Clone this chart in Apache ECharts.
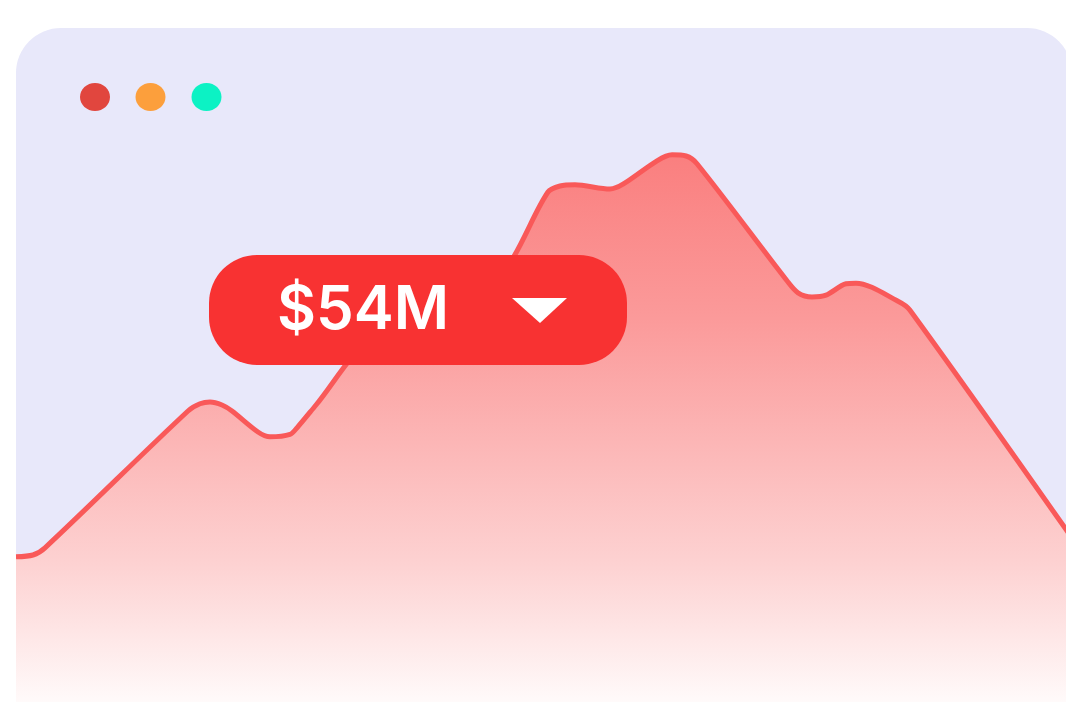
<!DOCTYPE html>
<html>
<head>
<meta charset="utf-8">
<script src="https://cdn.jsdelivr.net/npm/echarts@6/dist/echarts.min.js"></script>
<style>
  html, body { margin: 0; padding: 0; background: #fff; }
  #chart { width: 1066px; height: 702px; }
</style>
</head>
<body>
<div id="chart"></div>
<script>
// position along the timeline (0..105) and value (0..100)
var xs = [0, 1.7, 2.9, 17.2, 18.4, 19.4, 20.6, 21.6, 24.2, 25.4, 27.4, 28.1, 30.0, 35.6, 47.9,
          53.2, 54.4, 55.9, 59.4, 60.7, 64.1, 65.6, 67.0, 68.1, 77.1, 78.2, 79.6,
          81.0, 83.0, 84.0, 88.2, 89.4, 108.4];
var values = [24.2, 24.5, 25.7, 48.5, 49.7, 50.0, 49.5, 48.5, 45.0, 44.2, 44.6, 45.7, 49.5, 60.7, 70.3,
              85.0, 86.0, 86.2, 85.5, 86.3, 90.2, 91.2, 91.0, 89.7, 70.2, 68.2, 67.5,
              67.8, 69.7, 69.8, 66.8, 65.3, 20.7];
var badgeLabel = '$54M';

var points = xs.map(function (x, i) { return [x, values[i]]; });

var chart = echarts.init(document.getElementById('chart'));

var option = {
    backgroundColor: '#ffffff',
    animation: false,
    grid: { left: 16, right: 0, top: 102, bottom: 0 },
    xAxis: { type: 'value', min: 0, max: 105, show: false },
    yAxis: { type: 'value', min: 0, max: 100, show: false },
    graphic: [
        {
            type: 'rect', z: 0, silent: true,
            shape: { x: 16, y: 28, width: 1056, height: 720, r: 45 },
            style: { fill: '#e8e8fa' }
        },
        { type: 'ellipse', z: 1, shape: { cx: 95, cy: 97, rx: 15, ry: 14 }, style: { fill: '#e1463e' } },
        { type: 'ellipse', z: 1, shape: { cx: 150.5, cy: 97, rx: 15, ry: 14 }, style: { fill: '#fc9f3c' } },
        { type: 'ellipse', z: 1, shape: { cx: 206.5, cy: 97, rx: 15, ry: 14 }, style: { fill: '#0cf2c4' } },
        {
            type: 'group', z: 10,
            children: [
                {
                    type: 'rect', z: 10,
                    shape: { x: 209, y: 255, width: 418, height: 110, r: 48 },
                    style: { fill: '#f83232' }
                },
                {
                    type: 'text', z: 11,
                    style: {
                        x: 277, y: 311, text: badgeLabel,
                        fill: '#ffffff',
                        font: '600 60px Inter, "Noto Sans", sans-serif',
                        verticalAlign: 'middle'
                    }
                },
                {
                    type: 'polygon', z: 11,
                    shape: { points: [[512, 298], [567, 298], [540, 323]] },
                    style: { fill: '#ffffff' }
                }
            ]
        }
    ],
    series: [
        {
            type: 'line',
            data: points,
            smooth: 0.3,
            symbol: 'none',
            z: 2,
            lineStyle: { color: '#f95959', width: 5 },
            areaStyle: {
                opacity: 1,
                color: {
                    type: 'linear', x: 0, y: 0, x2: 0, y2: 1,
                    colorStops: [
                        { offset: 0, color: '#fa7f7f' },
                        { offset: 0.3, color: '#fb9a9a' },
                        { offset: 0.55, color: '#fcb9b9' },
                        { offset: 0.75, color: '#fdd2d2' },
                        { offset: 1, color: '#fffafa' }
                    ]
                }
            }
        }
    ]
};

chart.setOption(option);
</script>
</body>
</html>
